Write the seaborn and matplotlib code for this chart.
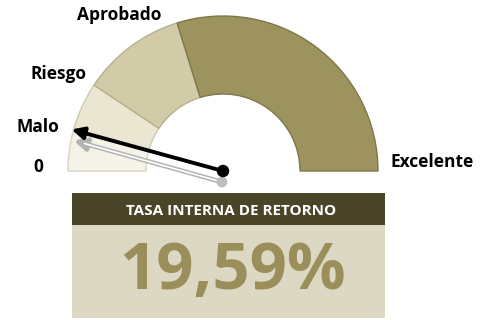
import numpy as np
import pandas as pd
import matplotlib
matplotlib.use("Agg")
import matplotlib.pyplot as plt
from matplotlib.patches import Wedge, Rectangle
import seaborn as sns

# Gauge bands (upper limit of each band, TIR %) and their labels
band_limits = [0, 19, 43, 93, 230]
band_labels = ["0", "Malo", "Riesgo", "Aprobado", "Excelente"]
band_colors = ["#F5F3E8", "#EAE6D2", "#D1CBA7", "#9D935F"]
band_edges = ["#d8d4c2", "#cfcab2", "#b7b08a", "#7f774a"]

tir_value = 19.59
title_text = "TASA INTERNA DE RETORNO"
value_text = "19,59%"

sns.set_theme(style="white")
plt.rcParams["font.family"] = ["Open Sans", "DejaVu Sans"]

W, H = 488, 320
fig = plt.figure(figsize=(W / 100, H / 100), dpi=100)
ax = fig.add_axes([0, 0, 1, 1])
ax.set_xlim(0, W)
ax.set_ylim(0, H)
ax.set_aspect("equal")
ax.axis("off")

def py(y):
    # top-down pixel row -> axis y
    return H - y

cx, cy = 223, py(171)
r_out, r_in = 155, 77
vmax = band_limits[-1]

def angle(v):
    return 180 - v / vmax * 180

# gauge bands
for lo, hi, col, ec in zip(band_limits[:-1], band_limits[1:], band_colors, band_edges):
    ax.add_patch(Wedge((cx, cy), r_out, angle(hi), angle(lo), width=r_out - r_in,
                       facecolor=col, edgecolor=ec, linewidth=1.0))

# band labels
lab_pos = {
    "0": (38, 172, "center"),
    "Malo": (16, 132, "left"),
    "Riesgo": (31, 79, "left"),
    "Aprobado": (77, 20, "left"),
    "Excelente": (391, 167, "left"),
}
for lab in band_labels:
    x, y, ha = lab_pos[lab]
    ax.text(x, py(y), lab, ha=ha, va="baseline", fontsize=12.5,
            fontweight="bold", color="black")

# needle
a = np.deg2rad(angle(tir_value))
L = 157
needle = pd.DataFrame({"x": [cx, cx + L * np.cos(a)], "y": [cy, cy + L * np.sin(a)]})
shadow = needle.assign(x=needle.x - 1, y=needle.y - 11)
shadow.loc[1, "x"] += 3

ax.annotate("", xy=(shadow.x[1], shadow.y[1]), xytext=(shadow.x[0], shadow.y[0]),
            arrowprops=dict(arrowstyle="-|>,head_length=0.6,head_width=0.3",
                            color="#b3b3b3", lw=3.4, shrinkA=0, shrinkB=0))
ax.annotate("", xy=(shadow.x[1], shadow.y[1]), xytext=(shadow.x[0], shadow.y[0]),
            arrowprops=dict(arrowstyle="-", color="white", lw=1.2,
                            shrinkA=0, shrinkB=8))
sns.scatterplot(data=shadow.iloc[[0]], x="x", y="y", ax=ax, s=60,
                color="#bdbdbd", edgecolor="none", zorder=4)

ax.annotate("", xy=(needle.x[1], needle.y[1]), xytext=(needle.x[0], needle.y[0]),
            arrowprops=dict(arrowstyle="-|>,head_length=0.6,head_width=0.3",
                            color="black", lw=2.8, shrinkA=0, shrinkB=0), zorder=5)
sns.scatterplot(data=needle.iloc[[0]], x="x", y="y", ax=ax, s=80,
                color="black", edgecolor="none", zorder=6)

# value panel
ax.add_patch(Rectangle((72, py(318)), 313, 93, facecolor="#DDD8C4", edgecolor="none"))
ax.add_patch(Rectangle((72, py(225)), 313, 32, facecolor="#4A4528", edgecolor="none"))
ax.text(231, py(211), title_text, ha="center", va="center", fontsize=11,
        fontweight="bold", color="white")
ax.text(232, py(289), value_text, ha="center", va="baseline", fontsize=47,
        fontweight="bold", color="#9A8F5A")

fig.savefig("out.png", dpi=100)
